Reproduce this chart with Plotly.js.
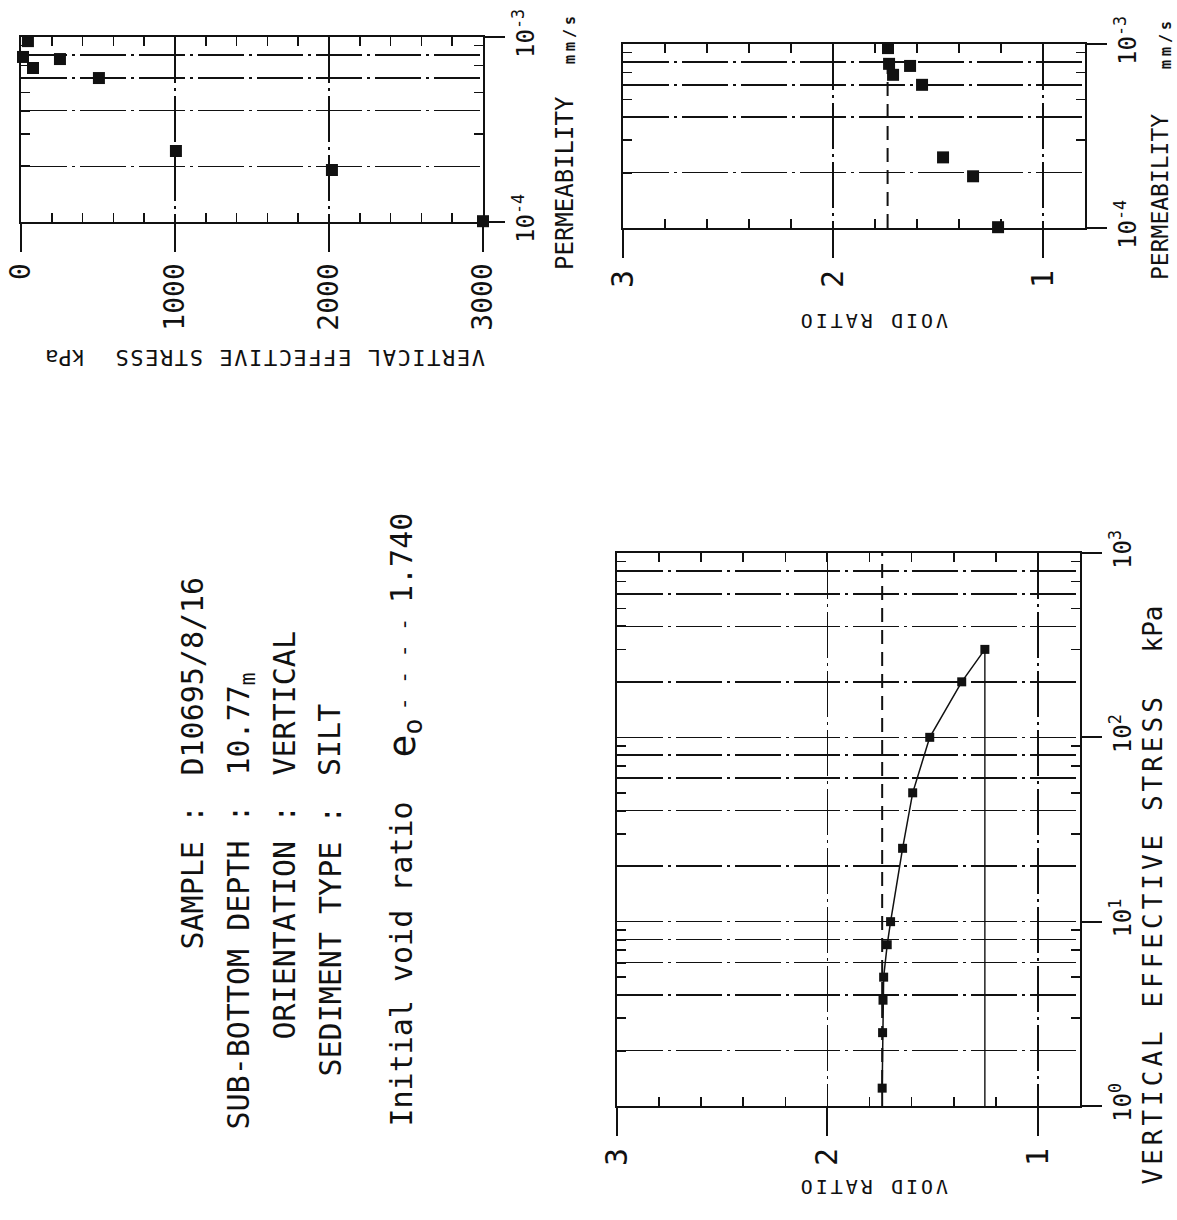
<!DOCTYPE html>
<html>
<head>
<meta charset="utf-8">
<script src="https://cdn.plot.ly/plotly-3.0.1.min.js"></script>
<style>
html,body{margin:0;padding:0;background:#fff;}
#chart{width:1177px;height:1220px;}
</style>
</head>
<body>
<div id="chart"></div>
<script>
// ---------------- data ----------------
// Main consolidation curve: vertical effective stress (kPa) vs void ratio
const stressMain = [1.25, 2.5, 3.75, 5, 7.5, 10, 25, 50, 100, 200, 300];
const voidMain   = [1.740, 1.738, 1.736, 1.733, 1.716, 1.700, 1.643, 1.595, 1.514, 1.362, 1.252];
// Permeability measurements
const permStress = [45, 13, 78, 253, 506, 1006, 2019, 3000];
const permValues = [9.5e-4, 7.8e-4, 6.8e-4, 7.6e-4, 6.0e-4, 2.42e-4, 1.91e-4, 1.01e-4];
const permVoid   = [1.738, 1.733, 1.714, 1.633, 1.576, 1.476, 1.333, 1.214];
// Initial void ratio
const e0 = 1.740;

// tick values / labels
const stressDecades = [1, 10, 100, 1000];
const stressDecadeLabels = ['10<sup>0</sup>', '10<sup>1</sup>', '10<sup>2</sup>', '10<sup>3</sup>'];
const stressGrid  = [2, 4, 6, 8, 20, 40, 60, 80, 200, 400, 600, 800];
const stressMinor = [3, 5, 7, 9, 30, 50, 70, 90, 300, 500, 700, 900];
const voidTicks  = [3, 2, 1];
const voidLabels = ['3', '2', '1'];
const voidMinor  = [2.8, 2.6, 2.4, 2.2, 1.8, 1.6, 1.4, 1.2];
const permDecades = [1e-4, 1e-3];
const permLabels  = ['10<sup>-4</sup>', '10<sup>-3</sup>'];
const permGrid  = [2e-4, 4e-4, 6e-4, 8e-4];
const permMinor = [3e-4, 5e-4, 7e-4, 9e-4];
const stressLinTicks  = [0, 1000, 2000, 3000];
const stressLinLabels = ['0', '1000', '2000', '3000'];
const stressLinMinor  = [200, 400, 600, 800, 1200, 1400, 1600, 1800, 2200, 2400, 2600, 2800];

// ---------------- styling ----------------
const W = 1177, H = 1220;
const FONT = 'DejaVu Sans Mono';
const INK = '#111111';
const GRID_DASH = '46px,5px,3px,5px';
const E0_DASH = '14px,8px';
const font = (size, extra) => Object.assign({family: FONT, size: size, color: INK}, extra || {});
const dx = (a, b) => [a / W, b / W];
const dy = (top, bottom) => [1 - bottom / H, 1 - top / H];

function axis(o) {
  return Object.assign({
    showline: true, linecolor: INK, linewidth: 2, zeroline: false, showgrid: false,
    tickcolor: INK, tickwidth: 2, tickmode: 'array', fixedrange: true,
    gridcolor: INK, gridwidth: 1.5, griddash: GRID_DASH,
    tickfont: font(26)
  }, o);
}
function minor(vals) {
  return {tickmode: 'array', tickvals: vals, ticks: 'inside', ticklen: 9, tickwidth: 1.6, tickcolor: INK, showgrid: false};
}

const layout = {
  width: W, height: H,
  margin: {l: 0, r: 0, t: 0, b: 0},
  paper_bgcolor: '#ffffff', plot_bgcolor: '#ffffff',
  showlegend: false,

  // ---- main plot: void ratio (horizontal) vs stress (vertical, log) ----
  xaxis: axis({domain: dx(617, 1080), anchor: 'y', range: [3, 0.8],
    tickvals: voidTicks, ticktext: voidLabels, ticks: 'outside', ticklen: 28,
    tickangle: -90, tickfont: font(30), showgrid: true, minor: minor(voidMinor)}),
  xaxis4: axis({overlaying: 'x', anchor: 'y4', side: 'top', range: [3, 0.8],
    tickvals: voidTicks, ticks: 'inside', ticklen: 9, showticklabels: false, minor: minor(voidMinor)}),
  yaxis: axis({domain: dy(553, 1106), anchor: 'x', side: 'right', type: 'log', range: [0, 3],
    tickvals: stressDecades, ticktext: stressDecadeLabels, ticks: 'outside', ticklen: 20,
    tickangle: -90, tickfont: font(24), showgrid: true, minor: minor(stressMinor)}),
  yaxis4: axis({overlaying: 'y', anchor: 'x4', side: 'left', type: 'log', range: [0, 3],
    tickvals: stressGrid, ticks: 'inside', ticklen: 9, showticklabels: false, showgrid: true,
    minor: minor(stressMinor)}),

  // ---- top-left: stress (horizontal) vs permeability (vertical, log) ----
  xaxis2: axis({domain: dx(21, 483), anchor: 'y2', range: [0, 3000],
    tickvals: stressLinTicks, ticktext: stressLinLabels, ticks: 'outside', ticklen: 28,
    tickangle: -90, tickfont: font(28), showgrid: true, minor: minor(stressLinMinor)}),
  xaxis5: axis({overlaying: 'x2', anchor: 'y5', side: 'top', range: [0, 3000],
    tickvals: stressLinTicks, ticks: 'inside', ticklen: 9, showticklabels: false, minor: minor(stressLinMinor)}),
  yaxis2: axis({domain: dy(37, 222), anchor: 'x2', side: 'right', type: 'log', range: [-4, -3],
    tickvals: permDecades, ticktext: permLabels, ticks: 'outside', ticklen: 20,
    tickangle: -90, tickfont: font(24), minor: minor(permMinor)}),
  yaxis5: axis({overlaying: 'y2', anchor: 'x5', side: 'left', type: 'log', range: [-4, -3],
    tickvals: permGrid, ticks: 'inside', ticklen: 9, showticklabels: false, showgrid: true,
    minor: minor(permMinor)}),

  // ---- top-right: void ratio (horizontal) vs permeability (vertical, log) ----
  xaxis3: axis({domain: dx(623, 1085), anchor: 'y3', range: [3, 0.8],
    tickvals: voidTicks, ticktext: voidLabels, ticks: 'outside', ticklen: 28,
    tickangle: -90, tickfont: font(30), showgrid: true, minor: minor(voidMinor)}),
  xaxis6: axis({overlaying: 'x3', anchor: 'y6', side: 'top', range: [3, 0.8],
    tickvals: voidTicks, ticks: 'inside', ticklen: 9, showticklabels: false, minor: minor(voidMinor)}),
  yaxis3: axis({domain: dy(44, 228), anchor: 'x3', side: 'right', type: 'log', range: [-4, -3],
    tickvals: permDecades, ticktext: permLabels, ticks: 'outside', ticklen: 20,
    tickangle: -90, tickfont: font(24), minor: minor(permMinor)}),
  yaxis6: axis({overlaying: 'y3', anchor: 'x6', side: 'left', type: 'log', range: [-4, -3],
    tickvals: permGrid, ticks: 'inside', ticklen: 9, showticklabels: false, showgrid: true,
    minor: minor(permMinor)}),

  annotations: []
};

// text helper: positions in page pixels
function txt(text, x, y, o) {
  return Object.assign({xref: 'paper', yref: 'paper', x: x / W, y: 1 - y / H, text: text,
    showarrow: false, textangle: -90, xanchor: 'center', yanchor: 'middle', font: font(30)}, o || {});
}
const sp = (px, s) => '<span style="letter-spacing:' + px + 'px">' + s + '</span>';

layout.annotations.push(
  // header block
  txt('SAMPLE :', 192, 803, {yanchor: 'top'}),
  txt('D10695/8/16', 192, 778, {yanchor: 'bottom'}),
  txt('SUB-BOTTOM DEPTH :', 238, 803, {yanchor: 'top'}),
  txt('10.77<sub>m</sub>', 240, 778, {yanchor: 'bottom'}),
  txt('ORIENTATION :', 284, 803, {yanchor: 'top'}),
  txt('VERTICAL', 284, 778, {yanchor: 'bottom'}),
  txt('SEDIMENT TYPE :', 330, 803, {yanchor: 'top'}),
  txt('SILT', 330, 778, {yanchor: 'bottom'}),
  txt('Initial void ratio', 401, 800, {yanchor: 'top'}),
  txt('e<sub>o</sub>', 404, 760, {yanchor: 'bottom', font: font(38)}),
  txt('- - - -', 403, 712, {yanchor: 'bottom', font: font(22)}),
  txt('1.740', 401, 605, {yanchor: 'bottom'}),

  // main plot titles
  txt(sp(4, 'VERTICAL EFFECTIVE STRESS'), 1152, 1187, {yanchor: 'bottom', font: font(26)}),
  txt('kPa', 1152, 604, {yanchor: 'top', font: font(26)}),
  txt(sp(3, 'VOID RATIO'), 873, 1187, {textangle: 180, font: font(20)}),

  // top-left titles
  txt(sp(1.6, 'VERTICAL EFFECTIVE STRESS'), 487, 358, {textangle: 180, xanchor: 'right', font: font(22)}),
  txt('kPa', 43, 358, {textangle: 180, xanchor: 'left', font: font(22)}),
  txt('PERMEABILITY', 565, 272, {yanchor: 'bottom', font: font(24)}),
  txt(sp(4, '<b>mm/s</b>'), 570, 10, {yanchor: 'top', font: font(15)}),

  // top-right titles
  txt(sp(3, 'VOID RATIO'), 873, 321, {textangle: 180, font: font(20)}),
  txt('PERMEABILITY', 1160, 282, {yanchor: 'bottom', font: font(23)}),
  txt(sp(4, '<b>mm/s</b>'), 1166, 15, {yanchor: 'top', font: font(15)})
);

// ---------------- traces ----------------
const sq = size => ({symbol: 'square', size: size, color: INK, line: {width: 0}});
const last = voidMain.length - 1;
const traces = [
  // consolidation curve
  {type: 'scatter', x: voidMain, y: stressMain, xaxis: 'x', yaxis: 'y', mode: 'lines+markers',
   line: {color: INK, width: 1.5}, marker: sq(9), hoverinfo: 'skip'},
  // final void ratio reference line (from axis start to last load)
  {type: 'scatter', x: [voidMain[last], voidMain[last]], y: [stressDecades[0], stressMain[last]],
   xaxis: 'x', yaxis: 'y', mode: 'lines', line: {color: INK, width: 1.4}, hoverinfo: 'skip'},
  // initial void ratio, main plot
  {type: 'scatter', x: [e0, e0], y: [stressDecades[0], stressDecades[stressDecades.length - 1]],
   xaxis: 'x4', yaxis: 'y4', mode: 'lines', line: {color: INK, width: 2, dash: E0_DASH}, hoverinfo: 'skip'},
  // permeability vs stress
  {type: 'scatter', x: permStress, y: permValues, xaxis: 'x2', yaxis: 'y2', mode: 'markers',
   marker: sq(12), cliponaxis: false, hoverinfo: 'skip'},
  // same data bound to the mirrored frame axes (draws nothing; makes the frame axes render)
  {type: 'scatter', x: permStress, y: permValues, xaxis: 'x5', yaxis: 'y5', mode: 'none', hoverinfo: 'skip'},
  // permeability vs void ratio
  {type: 'scatter', x: permVoid, y: permValues, xaxis: 'x3', yaxis: 'y3', mode: 'markers',
   marker: sq(12), cliponaxis: false, hoverinfo: 'skip'},
  // initial void ratio, permeability plot
  {type: 'scatter', x: [e0, e0], y: permDecades, xaxis: 'x6', yaxis: 'y6', mode: 'lines',
   line: {color: INK, width: 2, dash: E0_DASH}, hoverinfo: 'skip'}
];

Plotly.newPlot('chart', traces, layout, {staticPlot: true, displayModeBar: false});
</script>
</body>
</html>
